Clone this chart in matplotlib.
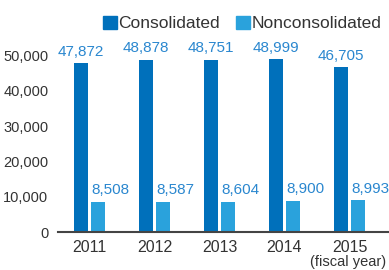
import numpy as np
import matplotlib.pyplot as plt
from matplotlib.patches import Patch

plt.rcParams['font.family'] = ['Liberation Sans', 'DejaVu Sans']

years = ['2011', '2012', '2013', '2014', '2015']
consolidated = [47872, 48878, 48751, 48999, 46705]
nonconsolidated = [8508, 8587, 8604, 8900, 8993]

c_dark = '#0070bb'
c_light = '#2aa2dc'
c_text = '#2a87cf'

fig = plt.figure(figsize=(3.89, 2.70), dpi=100)
ax = fig.add_axes([58/389, 38/270, 331/389, 194/270])

x = np.arange(len(years))
w = 0.215
ax.bar(x - 0.13, consolidated, w, color=c_dark)
ax.bar(x + 0.13, nonconsolidated, w, color=c_light)

for xi, v in zip(x, consolidated):
    ax.text(xi - 0.13, v + 1300, f'{v:,}', ha='center', va='bottom', fontsize=11, color=c_text)
for xi, v in zip(x, nonconsolidated):
    ax.text(xi + 0.13 - w/2, v + 1300, f'{v:,}', ha='left', va='bottom', fontsize=11, color=c_text)

ax.set_xlim(-0.485, 4.608)
ax.set_ylim(0, 55000)
ax.set_yticks(range(0, 50001, 10000))
ax.set_yticklabels([f'{t:,}' for t in range(0, 50001, 10000)])
ax.set_xticks(x)
ax.set_xticklabels(years)
ax.tick_params(length=0, labelsize=10.5, labelcolor='#333333')
ax.tick_params(axis='x', pad=6, labelsize=11.5)
ax.tick_params(axis='y', pad=7)
for s in ['top', 'right', 'left']:
    ax.spines[s].set_visible(False)
ax.spines['bottom'].set_color('#444444')
ax.spines['bottom'].set_linewidth(1.5)

fig.text(348/389, 1/270, '(fiscal year)', ha='center', va='bottom', fontsize=10.5, color='#333333')

handles = [Patch(color=c_dark, label='Consolidated'), Patch(color=c_light, label='Nonconsolidated')]
fig.legend(handles=handles, loc='upper right', bbox_to_anchor=(1.02, 1.0), ncol=2, frameon=False,
           fontsize=12.5, handlelength=0.8, handleheight=0.8, handletextpad=0.1, columnspacing=0.9,
           labelcolor='#333333')

fig.savefig('out.png', dpi=100)
